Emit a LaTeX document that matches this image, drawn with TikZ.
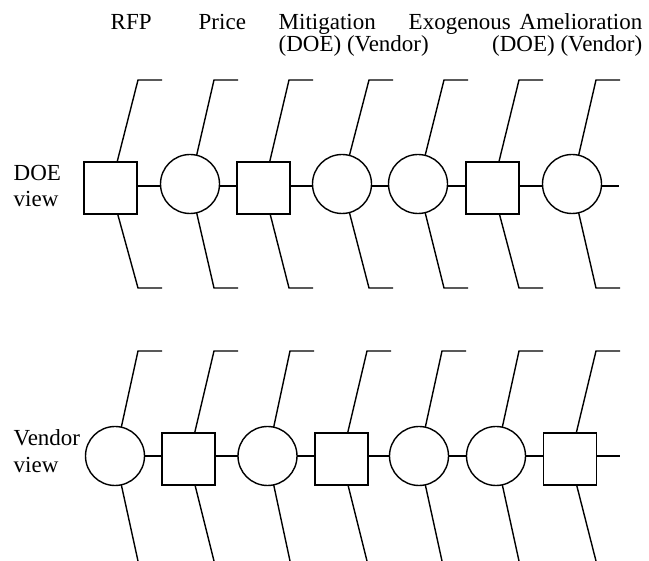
\documentclass[tikz,border=0pt]{standalone}
\usepackage{fontspec}
\setmainfont{Liberation Serif}
\begin{document}
\begin{tikzpicture}[x=1pt,y=-1pt, line width=1.4pt,
  sq/.style={draw, rectangle, minimum width=53pt, minimum height=52pt, inner sep=0pt, outer sep=0pt},
  ci/.style={draw, circle, minimum size=59pt, inner sep=0pt, outer sep=0pt},
  lbl/.style={inner sep=0pt, anchor=base west, font=\fontsize{23}{27}\selectfont},
  lble/.style={lbl, anchor=base east}]
\useasboundingbox (0,0) rectangle (649,561);
% column labels
\node[lbl] (lrfp) at (110,30) {RFP};
\node[lbl] (lprice) at (198,30) {Price};
\node[lbl] (lmit) at (278,30) {Mitigation};
\node[lbl] (lmit2) at (278,52) {(DOE) (Vendor)};
\node[lbl] (lexo) at (408,30) {Exogenous};
\node[lbl] (lame) at (519,30) {Amelioration};
\node[lble] (lame2) at (643,52) {(DOE) (Vendor)};
% row labels
\node[lbl] (ldoe) at (13,181) {DOE};
\node[lbl] (ldoev) at (13,207) {view};
\node[lbl] (lven) at (13,446) {Vendor};
\node[lbl] (lvenv) at (13,473) {view};
% top row
\coordinate (ry1) at (0,186);
\node[sq] (t1) at (110.5,188) {};
\node[ci] (t2) at (190,184) {};
\node[sq] (t3) at (263.5,188) {};
\node[ci] (t4) at (342,184) {};
\node[ci] (t5) at (418,184) {};
\node[sq] (t6) at (492.5,188) {};
\node[ci] (t7) at (572,184) {};
\coordinate (te) at (619,186);
\foreach \a/\b in {t1/t2,t2/t3,t3/t4,t4/t5,t5/t6,t6/t7}
  \draw (\a.east |- ry1) -- (\b.west |- ry1);
\draw (t7.east |- ry1) -- (te);
\foreach \n/\k in {t1/138,t2/214,t3/289,t4/369,t5/444,t6/519,t7/596}{
  \draw (\n) -- (\k,80) -- (\k+24,80);
  \draw (\n) -- (\k,288) -- (\k+24,288);
}
% bottom row
\coordinate (ry2) at (0,456);
\node[ci] (b1) at (115,456) {};
\node[sq] (b2) at (188.5,459) {};
\node[ci] (b3) at (267.5,456) {};
\node[sq] (b4) at (341.5,459) {};
\node[ci] (b5) at (419,456) {};
\node[ci] (b6) at (496,456) {};
\node[sq] (b7) at (570,459) {};
\coordinate (be) at (620,456);
\foreach \a/\b in {b1/b2,b2/b3,b3/b4,b4/b5,b5/b6,b6/b7}
  \draw (\a.east |- ry2) -- (\b.west |- ry2);
\draw (b7.east |- ry2) -- (be);
\foreach \n/\k in {b1/138,b2/214,b3/290,b4/367,b5/442,b6/519,b7/596}{
  \draw (\n) -- (\k,351) -- (\k+24,351);
  \draw (\n) -- (\k,561);
}
\end{tikzpicture}
\end{document}
